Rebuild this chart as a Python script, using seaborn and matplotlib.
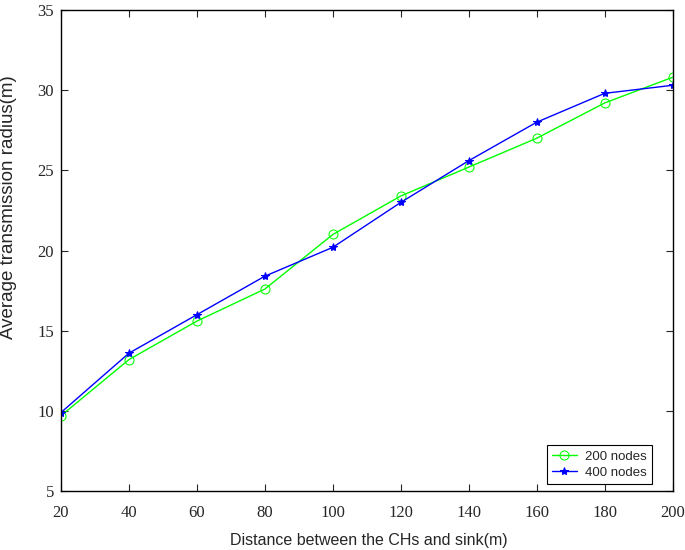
import numpy as np
import pandas as pd
import seaborn as sns
from matplotlib import pyplot as plt

distance = [20, 40, 60, 80, 100, 120, 140, 160, 180, 200]
radius_200 = [9.7, 13.2, 15.6, 17.6, 21.0, 23.4, 25.2, 27.0, 29.2, 30.8]
radius_400 = [9.9, 13.6, 16.0, 18.4, 20.2, 23.0, 25.6, 28.0, 29.8, 30.3]
series_names = ["200 nodes", "400 nodes"]

df = pd.DataFrame({
    "distance": distance * 2,
    "radius": radius_200 + radius_400,
    "series": [series_names[0]] * len(distance) + [series_names[1]] * len(distance),
})

sns.set_style("ticks")
plt.rcParams["font.family"] = ["Liberation Sans", "DejaVu Sans"]

fig = plt.figure(figsize=(6.85, 5.5), dpi=100)
ax = fig.add_axes([0.089, 0.107, 0.893, 0.875])

styles = {series_names[0]: dict(color="#00ff00", marker="o", markersize=6.5,
                                markerfacecolor="none", markeredgecolor="#00ff00"),
          series_names[1]: dict(color="#0000ff", marker="*", markersize=6,
                                markerfacecolor="#0000ff", markeredgecolor="#0000ff")}
for name in series_names:
    sub = df[df["series"] == name]
    sns.lineplot(data=sub, x="distance", y="radius", ax=ax, label=name,
                 linewidth=1.0, **styles[name])

ax.set_xlim(20, 200)
ax.set_ylim(5, 35)
ax.set_xticks(range(20, 201, 20))
ax.set_yticks(range(5, 36, 5))
ax.tick_params(direction="in", top=True, right=True, length=5, width=0.8,
               labelsize=12)
ax.tick_params(axis="x", pad=10)
ax.tick_params(axis="y", pad=5)
for lab in ax.get_xticklabels() + ax.get_yticklabels():
    lab.set_family("Liberation Serif")
for sp in ax.spines.values():
    sp.set_linewidth(1.0)
    sp.set_color("black")

ax.set_xlabel("Distance between the CHs and sink(m)", fontsize=11.5)
ax.set_ylabel("Average transmission radius(m)", fontsize=13.5)
ax.xaxis.set_label_coords(0.503, -0.087)
ax.yaxis.set_label_coords(-0.072, 0.59)

leg = ax.legend(loc="lower right", bbox_to_anchor=(0.966, 0.0146),
                borderaxespad=0, fontsize=9.5, frameon=True, fancybox=False,
                edgecolor="black", framealpha=1, handlelength=1.9,
                borderpad=0.4, labelspacing=0.3, handletextpad=0.6)
leg.get_frame().set_linewidth(0.8)

plt.savefig("out.png", dpi=100)
plt.close(fig)
